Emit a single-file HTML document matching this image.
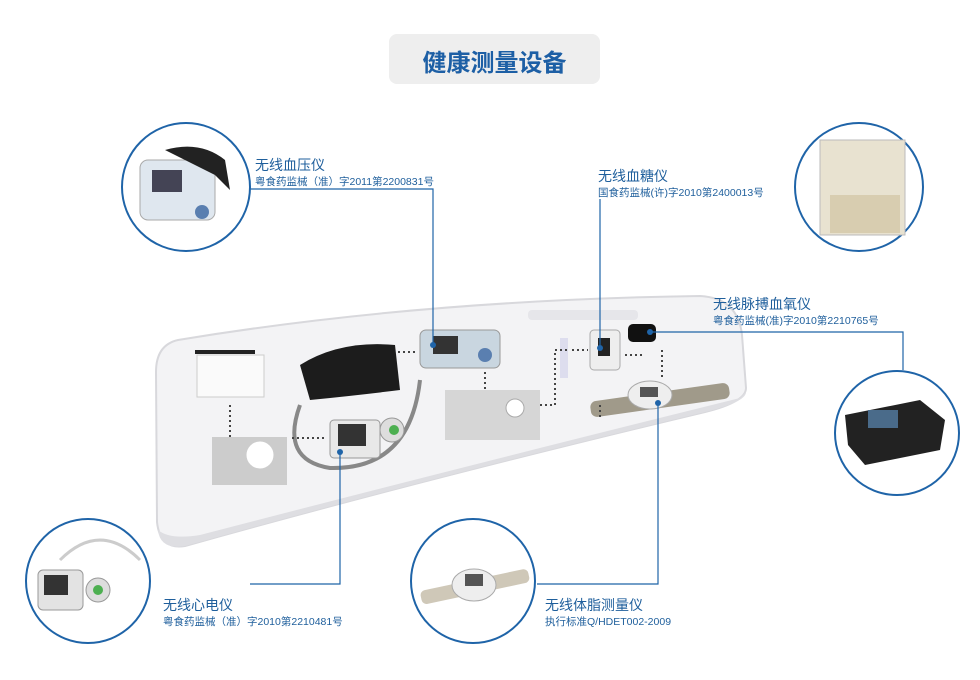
<!DOCTYPE html>
<html><head><meta charset="utf-8"><style>
body{margin:0;background:#fff;width:980px;height:680px;overflow:hidden;position:relative;font-family:"Liberation Sans","Noto Sans CJK SC",sans-serif}
.t{position:absolute;color:#1f5f9c;white-space:nowrap}
.h{font-size:14px}
.s{font-size:10.5px}
</style></head><body>
<svg width="980" height="680" style="position:absolute;left:0;top:0">
<rect x="389" y="34" width="211" height="50" rx="8" fill="#eeeeee"/>
<!-- board -->
<path d="M178,340 Q420,300 700,296 Q738,298 742,335 L746,388 Q746,402 705,412 Q420,480 185,546 Q160,550 157,522 L156,372 Q156,345 178,340 Z" fill="#f3f3f5" stroke="#d8d8dc" stroke-width="2"/>
<path d="M158,530 Q170,540 200,535 Q450,470 740,398 L746,392 Q746,402 705,412 Q420,480 185,546 Q160,550 158,530Z" fill="#dedee2"/>
<rect x="528" y="310" width="110" height="10" rx="4" fill="#e6e6ea"/>
<rect x="197" y="355" width="67" height="42" fill="#fafafa" stroke="#ccc"/>
<rect x="195" y="350" width="60" height="4" fill="#222"/>
<path d="M300,365 Q340,340 395,345 L400,390 Q360,395 310,400 Z" fill="#1c1c1c"/>
<rect x="420" y="330" width="80" height="38" rx="6" fill="#c9d6e0" stroke="#999"/>
<rect x="433" y="336" width="25" height="18" fill="#333"/>
<circle cx="485" cy="355" r="7" fill="#5a7fb0"/>
<path d="M300,405 Q280,460 330,468 Q410,470 420,380" fill="none" stroke="#888" stroke-width="4"/>
<rect x="330" y="420" width="50" height="38" rx="4" fill="#e8e8e8" stroke="#999"/>
<rect x="338" y="424" width="28" height="22" fill="#333"/>
<circle cx="392" cy="430" r="12" fill="#ddd" stroke="#999"/>
<circle cx="394" cy="430" r="5" fill="#4caf50"/>
<rect x="212" y="437" width="75" height="48" fill="#ccc"/>
<circle cx="260" cy="455" r="14" fill="#fff" stroke="#ccc"/>
<rect x="445" y="390" width="95" height="50" fill="#d6d6d6"/>
<circle cx="515" cy="408" r="9" fill="#fff" stroke="#aaa"/>
<rect x="590" y="330" width="30" height="40" rx="4" fill="#eee" stroke="#aaa"/>
<rect x="598" y="338" width="12" height="18" fill="#222"/>
<rect x="560" y="338" width="8" height="40" fill="#dde"/>
<rect x="628" y="324" width="28" height="18" rx="5" fill="#111"/>
<rect x="590" y="392" width="140" height="16" rx="6" fill="#a09a8a" transform="rotate(-8 660 400)"/>
<ellipse cx="650" cy="395" rx="22" ry="14" fill="#eee" stroke="#aaa"/>
<rect x="640" y="387" width="18" height="10" fill="#555"/>
<g stroke="#444" stroke-width="2" stroke-dasharray="2 3" fill="none">
<path d="M230,405 V440"/><path d="M292,438 H325"/><path d="M398,352 H418"/><path d="M485,372 V390"/>
<path d="M540,405 H555 V350 H570"/><path d="M572,350 H588"/><path d="M625,355 H642"/><path d="M662,350 V380"/><path d="M600,405 V420"/>
</g>
<g fill="#fff" stroke="#1f64a8" stroke-width="2">
<circle cx="186" cy="187" r="64"/>
<circle cx="859" cy="187" r="64"/>
<circle cx="897" cy="433" r="62"/>
<circle cx="88" cy="581" r="62"/>
<circle cx="473" cy="581" r="62"/>
</g>
<rect x="140" y="160" width="75" height="60" rx="8" fill="#dfe7ef" stroke="#aaa"/>
<rect x="152" y="170" width="30" height="22" fill="#445"/>
<circle cx="202" cy="212" r="7" fill="#5a7fb0"/>
<path d="M165,150 Q200,140 225,160 L230,190 L215,175Z" fill="#222"/>
<rect x="820" y="140" width="85" height="95" fill="#e8e2d0" stroke="#bbb"/>
<rect x="830" y="195" width="70" height="38" fill="#d8cdb0"/>
<path d="M845,415 L920,400 L945,420 L940,450 L865,465 L848,445Z" fill="#222"/>
<rect x="868" y="410" width="30" height="18" fill="#4a6b8a"/>
<rect x="38" y="570" width="45" height="40" rx="5" fill="#e3e3e3" stroke="#999"/>
<rect x="44" y="575" width="24" height="20" fill="#333"/>
<circle cx="98" cy="590" r="12" fill="#ddd" stroke="#999"/>
<circle cx="98" cy="590" r="5" fill="#4caf50"/>
<path d="M60,560 Q100,520 140,560" fill="none" stroke="#ccc" stroke-width="3"/>
<rect x="420" y="580" width="110" height="14" rx="5" fill="#cfc8b8" transform="rotate(-12 473 587)"/>
<ellipse cx="474" cy="585" rx="22" ry="16" fill="#eee" stroke="#aaa"/>
<rect x="465" y="574" width="18" height="12" fill="#555"/>
<g stroke="#1f64a8" stroke-width="1.2" fill="none">
<path d="M250,189 H433 V345"/>
<path d="M600,199 V348"/>
<path d="M650,332 H903 V370"/>
<path d="M250,584 H340 V452"/>
<path d="M537,584 H658 V403"/>
</g>
<g fill="#1f64a8"><circle cx="433" cy="345" r="3"/><circle cx="600" cy="348" r="3"/><circle cx="650" cy="332" r="3"/><circle cx="340" cy="452" r="3"/><circle cx="658" cy="403" r="3"/></g>
</svg>
<div class="t" style="left:389px;top:43px;width:211px;text-align:center;font-size:24px;font-weight:bold;color:#1d5fa5">健康测量设备</div>
<div class="t h" style="left:255px;top:155px">无线血压仪</div>
<div class="t s" style="left:255px;top:174px">粤食药监械（准）字2011第2200831号</div>
<div class="t h" style="left:598px;top:166px">无线血糖仪</div>
<div class="t s" style="left:598px;top:185px">国食药监械(许)字2010第2400013号</div>
<div class="t h" style="left:713px;top:294px">无线脉搏血氧仪</div>
<div class="t s" style="left:713px;top:313px">粤食药监械(准)字2010第2210765号</div>
<div class="t h" style="left:163px;top:595px">无线心电仪</div>
<div class="t s" style="left:163px;top:614px">粤食药监械（准）字2010第2210481号</div>
<div class="t h" style="left:545px;top:595px">无线体脂测量仪</div>
<div class="t s" style="left:545px;top:614px">执行标准Q/HDET002-2009</div>
</body></html>
